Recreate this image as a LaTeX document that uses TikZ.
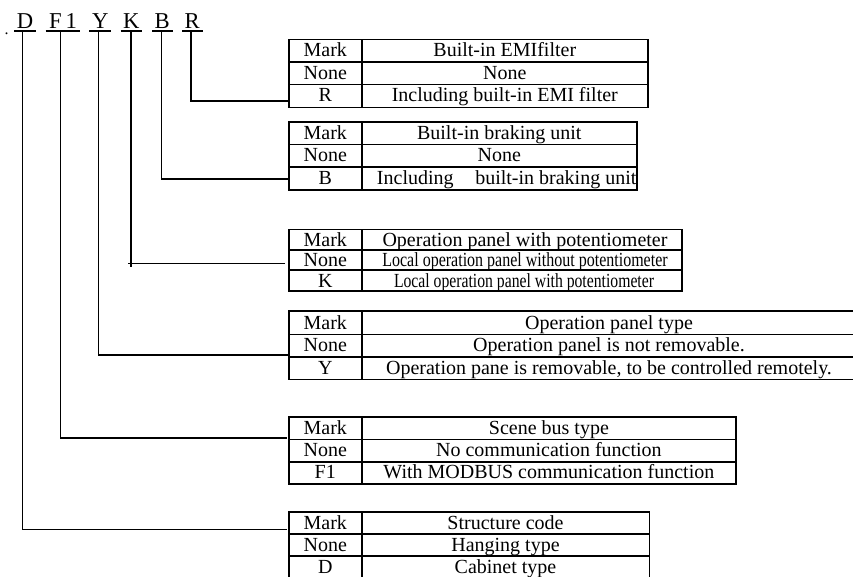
\documentclass[tikz,border=0pt]{standalone}
\usepackage{fontspec}
\setmainfont{Liberation Serif}
\usetikzlibrary{calc}
\newcommand\tabfont{\fontsize{15pt}{17pt}\selectfont}
\newcommand\codefont{\fontsize{17pt}{19pt}\selectfont}
% name, top, row line 1, row line 2, bottom, right
\newcommand\tabgrid[6]{%
  \coordinate (#1nw) at (289,#2);
  \coordinate (#1se) at (#6,#5);
  \draw[tline] (#1nw) rectangle (#1se);
  \draw[tline] (289,#3) -- (#6,#3) (289,#4) -- (#6,#4) (361.7,#2) -- (361.7,#5);
}
% name, baseline y, description centre x, mark, description
\newcommand\tabrow[5]{%
  \node[cell] (#1m) at (325.3,#2) {#4};
  \node[cell] (#1d) at (#3,#2) {#5};
}
\begin{document}
\begin{tikzpicture}[x=0.75pt,y=-0.75pt,
  tline/.style={line width=1.2pt},
  conn/.style={line width=1.2pt},
  uline/.style={line width=1pt},
  cell/.style={anchor=base,inner sep=0pt,font=\tabfont},
  code/.style={font=\codefont,anchor=south,inner xsep=0pt,inner ysep=2pt,text depth=0pt}]
\useasboundingbox (0,0) rectangle (853,576);
\clip (0,0) rectangle (853,576);
\fill[white] (0,0) rectangle (853,576);

% code letters
\node[font=\fontsize{12pt}{14pt}\selectfont,anchor=base,inner sep=0pt] (dot) at (6.7,34.5) {.};
\node[code,minimum width=16pt] (LD) at (25,31) {D};
\node[code,minimum width=25.5pt] (LF) at (63,31) {F\kern3pt 1};
\node[code,minimum width=16.3pt] (LY) at (100.2,31) {Y};
\node[code,minimum width=15.5pt] (LK) at (131.3,31) {K};
\node[code,minimum width=15pt] (LB) at (162.3,31) {B};
\node[code,minimum width=15pt] (LR) at (192.3,31) {R};
\foreach \n in {LD,LF,LY,LK,LB,LR}
  \draw[uline] (\n.south west) -- (\n.south east);

% tables
\tabgrid{T1}{39.3}{62}{84.5}{107.3}{648}
\tabrow{T1a}{56.7}{504.8}{Mark}{Built-in EMIfilter}
\tabrow{T1b}{79}{504.8}{None}{None}
\tabrow{T1c}{101.7}{504.8}{R}{Including built-in EMI filter}

\tabgrid{T2}{121.7}{144.3}{166.7}{190}{637}
\tabrow{T2a}{139}{499.3}{Mark}{Built-in braking unit}
\tabrow{T2b}{161.3}{499.3}{None}{None}
\node[cell] (T2cm) at (325.3,184.5) {B};
\node[cell,anchor=base west] (T2cd) at (376.7,184.5) {Including\hspace{12.5pt} built-in braking unit};

\tabgrid{T3}{229.3}{250}{270}{291}{682}
\tabrow{T3a}{246.5}{525}{Mark}{Operation panel with potentiometer}
\tabrow{T3b}{266.5}{525}{None}{\resizebox{214pt}{\height}{Local operation panel without potentiometer}}
\tabrow{T3c}{287}{524}{K}{\resizebox{195pt}{\height}{Local operation panel with potentiometer}}

\tabgrid{T4}{311}{334.3}{356.7}{379.3}{856}
\tabrow{T4a}{329}{609}{Mark}{Operation panel type}
\tabrow{T4b}{351.5}{609}{None}{Operation panel is not removable.}
\tabrow{T4c}{374}{609}{Y}{Operation pane is removable, to be controlled remotely.}

\tabgrid{T5}{416.7}{439.3}{461.7}{484}{736}
\tabrow{T5a}{434}{548.9}{Mark}{Scene bus type}
\tabrow{T5b}{456.5}{548.9}{None}{No communication function}
\tabrow{T5c}{478.8}{548.9}{F1}{With MODBUS communication function}

\tabgrid{T6}{511.7}{534}{556}{578.5}{649.3}
\tabrow{T6a}{529.3}{505.5}{Mark}{Structure code}
\tabrow{T6b}{551}{505.5}{None}{Hanging type}
\tabrow{T6c}{573}{505.5}{D}{Cabinet type}

% connector ends
\coordinate (eR) at (289,101);
\coordinate (eB) at (289,179);
\coordinate (eK) at (285,263.3);
\coordinate (kK) at (128.3,266.7);
\coordinate (eY) at (289,355);
\coordinate (eF) at (287,437.7);
\coordinate (eD) at (287,529.3);

\draw[conn] ([xshift=-1pt]LR.south) |- (eR);
\draw[conn] ([xshift=-0.75pt]LB.south) |- (eB);
\draw[conn] ([xshift=-0.45pt]LK.south) -- ([xshift=-0.45pt]LK.south |- kK);
\draw[conn] (eK) -- (eK -| kK);
\draw[conn] ([xshift=-1.4pt]LY.south) |- (eY);
\draw[conn] ([xshift=-2pt]LF.south) |- (eF);
\draw[conn] ([xshift=-1.73pt]LD.south) |- (eD);
\end{tikzpicture}
\end{document}
